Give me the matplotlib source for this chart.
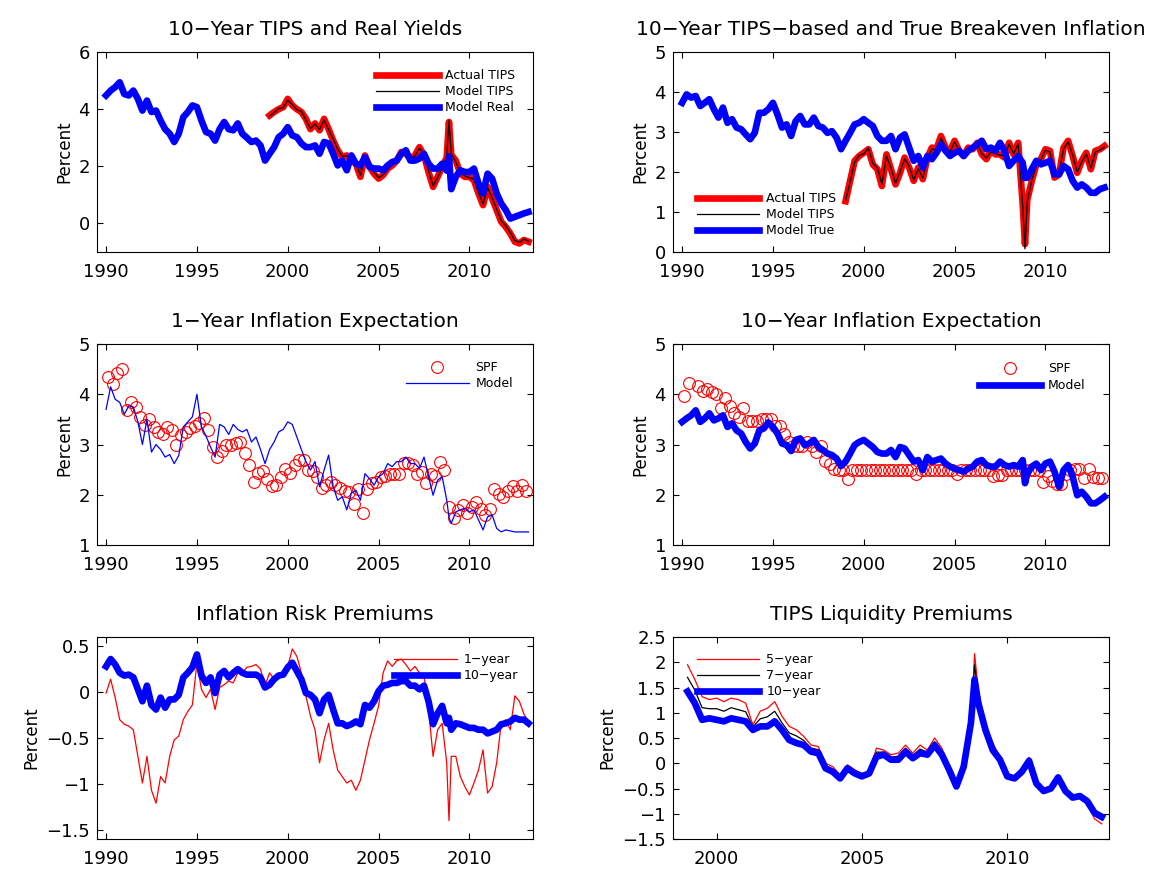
import numpy as np
import matplotlib
matplotlib.use('Agg')
import matplotlib.pyplot as plt
from matplotlib.ticker import FuncFormatter

plt.rcParams['font.family'] = ['DejaVu Sans']

nan = np.nan

# quarterly dates, with one extra point in late 2008 to catch the crisis spike
dates = np.concatenate([np.arange(1990, 2008.76, 0.25), [2008.875], np.arange(2009, 2013.26, 0.25)])
dates_tips = dates[dates >= 1999]
# survey dates (mid-quarter)
spf_dates_start = 1990.125

# --- panel 1: 10-year TIPS and real yields ---
real_model = [4.48, 4.65, 4.77, 4.94,  4.53, 4.48, 4.65, 4.36,  3.95, 4.30, 3.90, 3.95,
              3.60, 3.30, 3.14, 2.85,  3.14, 3.72, 3.90, 4.13,  4.07, 3.60, 3.20, 3.14,
              2.90, 3.30, 3.55, 3.30,  3.26, 3.50, 3.14, 3.00,  2.85, 2.90, 2.73, 2.20,
              2.44, 2.67, 3.02, 3.14,  3.37, 3.08, 3.02, 2.80,  2.67, 2.67, 2.73, 2.44,
              2.85, 2.80, 2.44, 2.03,  2.20, 1.86, 2.38, 2.09,  2.03, 2.32, 1.98, 1.92,
              1.92, 1.86, 2.03, 2.15,  2.20, 2.44, 2.56, 2.20,  2.20, 2.27, 2.44, 2.09,
              1.92, 1.92, 2.09, 1.85, 2.35,  1.20, 1.63, 1.86, 1.80,  1.80, 1.92, 1.40, 1.05,
              1.74, 1.57, 1.05, 0.70,  0.47, 0.17, 0.23, 0.29,  0.35, 0.40]
tips_actual = [3.78, 3.90, 4.00, 4.07,  4.36, 4.13, 4.00, 3.90,  3.66, 3.30, 3.50, 3.26,
               3.66, 3.30, 2.90, 2.56,  2.32, 2.38, 2.20, 2.09,  1.63, 2.38, 1.98, 1.74,
               1.57, 1.69, 1.92, 2.03,  2.20, 2.50, 2.44, 2.27,  2.38, 2.67, 2.38, 1.80,
               1.28, 1.63, 1.98, 2.30, 3.55,  2.40, 2.20, 1.74, 1.63,  1.63, 1.51, 1.05, 0.64,
               1.28, 0.87, 0.47, 0.06,  -0.12, -0.35, -0.64, -0.70,  -0.58, -0.64]
tips_model = [3.76, 3.88, 4.02, 4.05,  4.32, 4.15, 3.98, 3.92,  3.62, 3.32, 3.48, 3.28,
              3.62, 3.28, 2.95, 2.60,  2.35, 2.36, 2.22, 2.12,  1.68, 2.35, 2.00, 1.78,
              1.60, 1.70, 1.90, 2.05,  2.22, 2.48, 2.42, 2.30,  2.36, 2.64, 2.40, 1.85,
              1.32, 1.60, 1.95, 2.35, 3.60,  2.45, 2.15, 1.78, 1.66,  1.60, 1.55, 1.08, 0.68,
              1.25, 0.90, 0.50, 0.10,  -0.08, -0.32, -0.60, -0.66,  -0.55, -0.62]

# --- panel 2: breakeven inflation ---
bei_true = [3.73, 3.94, 3.86, 3.90,  3.65, 3.73, 3.82, 3.57,  3.36, 3.61, 3.23, 3.32,
            3.11, 3.07, 2.94, 2.82,  2.98, 3.48, 3.48, 3.57,  3.73, 3.44, 3.11, 3.19,
            2.90, 3.27, 3.40, 3.19,  3.19, 3.36, 3.15, 3.11,  2.98, 3.02, 2.86, 2.57,
            2.78, 2.98, 3.19, 3.23,  3.32, 3.23, 3.15, 2.90,  2.78, 2.78, 2.90, 2.57,
            2.86, 2.94, 2.61, 2.28,  2.40, 2.11, 2.40, 2.32,  2.48, 2.69, 2.53, 2.40,
            2.48, 2.53, 2.40, 2.53,  2.61, 2.69, 2.78, 2.57,  2.61, 2.53, 2.73, 2.53,
            2.15, 2.28, 2.40, 2.23, 1.85,  1.86, 2.07, 2.28, 2.19,  2.23, 2.28, 1.94, 1.94,
            2.15, 2.07, 1.78, 1.61,  1.69, 1.61, 1.48, 1.48,  1.57, 1.61]
bei_actual = [1.27, 1.78, 2.28, 2.40,  2.48, 2.57, 2.19, 2.07,  1.65, 2.44, 2.07, 1.69,
              1.98, 2.36, 2.11, 1.78,  2.11, 1.82, 2.36, 2.61,  2.57, 2.90, 2.61, 2.53,
              2.78, 2.53, 2.40, 2.61,  2.57, 2.73, 2.44, 2.32,  2.53, 2.44, 2.44, 2.36,
              2.73, 2.44, 2.73, 1.20, 0.20,  1.30, 1.78, 2.19, 2.32,  2.57, 2.53, 1.86, 1.94,
              2.61, 2.78, 2.40, 1.98,  2.28, 2.48, 2.07, 2.53,  2.57, 2.65]
bei_model = [1.30, 1.75, 2.25, 2.42,  2.45, 2.60, 2.22, 2.10,  1.70, 2.40, 2.10, 1.72,
             2.00, 2.33, 2.14, 1.80,  2.08, 1.85, 2.33, 2.58,  2.55, 2.85, 2.63, 2.50,
             2.75, 2.55, 2.42, 2.58,  2.55, 2.70, 2.46, 2.35,  2.50, 2.46, 2.42, 2.40,
             2.70, 2.46, 2.70, 1.15, 0.08,  1.25, 1.80, 2.15, 2.30,  2.55, 2.50, 1.90, 1.96,
             2.58, 2.75, 2.42, 2.00,  2.25, 2.45, 2.10, 2.50,  2.55, 2.62]

# --- panel 3: 1-year inflation expectation ---
spf_1y = [4.34, 4.20, 4.43, 4.51,  3.68, 3.85, 3.75, 3.54,  3.38, 3.50, 3.34, 3.25,
          3.20, 3.35, 3.28, 3.00,  3.19, 3.25, 3.32, 3.37,  3.42, 3.52, 3.28, 2.95,
          2.75, 2.87, 2.99, 3.00,  3.03, 3.05, 2.84, 2.59,  2.26, 2.44, 2.47, 2.31,
          2.17, 2.19, 2.36, 2.52,  2.44, 2.59, 2.69, 2.70,  2.49, 2.47, 2.36, 2.13,
          2.19, 2.26, 2.19, 2.13,  2.07, 2.06, 1.81, 2.11,  1.63, 2.11, 2.24, 2.26,
          2.36, 2.38, 2.42, 2.41,  2.41, 2.64, 2.64, 2.59,  2.42, 2.46, 2.23, 2.42,
          2.38, 2.66, 2.50, 1.76,  1.54, 1.70, 1.80, 1.63,  1.76, 1.86, 1.71, 1.60,
          1.71, 2.11, 2.01, 1.96,  2.07, 2.17, 2.07, 2.19,  2.08]
model_1y = [3.70, 4.15, 3.90, 3.84,  3.60, 3.77, 3.75, 3.45,  3.00, 3.50, 2.85, 3.00,
            2.90, 2.75, 2.80, 2.62,  2.78, 3.35, 3.45, 3.55,  4.00, 3.35, 3.17, 2.95,
            2.75, 3.40, 3.35, 3.20,  3.40, 3.30, 3.25, 3.30,  3.05, 3.15, 2.90, 2.62,
            2.90, 3.05, 3.25, 3.30,  3.45, 3.40, 3.15, 2.90,  2.66, 2.49, 2.66, 2.16,
            2.49, 2.79, 2.16, 1.89,  1.96, 1.70, 2.03, 2.09,  1.89, 2.42, 2.32, 2.19,
            2.36, 2.42, 2.62, 2.56,  2.66, 2.66, 2.75, 2.62,  2.62, 2.52, 2.75, 2.36,
            1.99, 2.29, 2.36, 1.90, 1.55,  1.43, 1.66, 1.70, 1.73,  1.66, 1.70, 1.50, 1.30,
            1.56, 1.60, 1.33, 1.26,  1.30, 1.28, 1.26, 1.26,  1.26, 1.26]

# --- panel 4: 10-year inflation expectation ---
spf_10y = [3.97, 4.23, nan, 4.16,  4.07, 4.11, 4.05, 4.00,  3.72, 3.92, 3.77, 3.62,
           3.54, 3.72, 3.46, 3.46,  3.47, 3.50, 3.50, 3.50,  3.37, 3.37, 3.21, 3.04,
           2.98, 2.98, 2.98, 3.04,  2.98, 2.85, 2.98, 2.67,  2.61, 2.51, 2.50, 2.50,
           2.32, 2.50, 2.50, 2.50,  2.50, 2.50, 2.50, 2.50,  2.50, 2.50, 2.50, 2.50,
           2.50, 2.50, 2.50, 2.42,  2.50, 2.50, 2.50, 2.50,  2.50, 2.50, 2.50, 2.50,
           2.42, 2.50, 2.50, 2.50,  2.50, 2.50, 2.50, 2.50,  2.38, 2.40, 2.40, 2.50,
           2.50, 2.50, 2.50, 2.50,  2.50, 2.50, 2.50, 2.26,  2.38, 2.28, 2.22, 2.22,
           2.42, 2.49, 2.51, 2.51,  2.34, 2.51, 2.36, 2.33,  2.33]
model_10y = [3.45, 3.52, 3.58, 3.68,  3.45, 3.52, 3.62, 3.48,  3.52, 3.58, 3.35, 3.42,
             3.28, 3.22, 3.05, 2.92,  3.02, 3.28, 3.32, 3.44,  3.35, 3.22, 3.02, 2.99,
             2.87, 3.09, 3.12, 2.99,  3.02, 3.09, 2.95, 2.89,  2.82, 2.79, 2.72, 2.57,
             2.66, 2.82, 2.99, 3.05,  3.09, 3.02, 2.95, 2.85,  2.82, 2.82, 2.89, 2.75,
             2.95, 2.92, 2.79, 2.66,  2.69, 2.49, 2.75, 2.66,  2.69, 2.72, 2.62, 2.56,
             2.52, 2.49, 2.46, 2.52,  2.56, 2.66, 2.69, 2.59,  2.56, 2.56, 2.66, 2.59,
             2.56, 2.59, 2.56, 2.69, 2.23,  2.42, 2.56, 2.62, 2.49,  2.62, 2.66, 2.46, 2.16,
             2.49, 2.59, 2.36, 1.99,  2.06, 1.96, 1.83, 1.83,  1.89, 1.96]

# --- panel 5: inflation risk premiums ---
irp_1y = [-0.01, 0.14, -0.06, -0.30,  -0.35, -0.37, -0.41, -0.70,  -0.99, -0.70, -1.07, -1.21,
          -0.92, -0.99, -0.70, -0.52,  -0.48, -0.30, -0.21, -0.14,  0.32, 0.03, -0.06, 0.03,
          -0.19, 0.05, 0.08, 0.12,  0.10, 0.21, 0.21, 0.27,  0.28, 0.30, 0.25, 0.07,
          0.21, 0.14, 0.18, 0.21,  0.28, 0.47, 0.39, 0.21,  -0.04, -0.26, -0.41, -0.77,
          -0.52, -0.34, -0.63, -0.85,  -0.92, -0.99, -0.96, -1.07,  -0.96, -0.74, -0.52, -0.34,
          -0.15, 0.21, 0.34, 0.28,  0.34, 0.36, 0.30, 0.23,  0.28, 0.21, 0.18, -0.19,
          -0.70, -0.41, -0.34, -0.77, -1.40,  -0.70, -0.70, -0.92, -1.03,  -1.12, -0.99, -0.85, -0.63,
          -1.10, -1.03, -0.77, -0.34,  -0.30, -0.41, -0.04, -0.10,  -0.24, -0.32]
irp_10y = [0.28, 0.36, 0.30, 0.21,  0.18, 0.19, 0.16, 0.03,  -0.10, 0.07, -0.14, -0.19,
           -0.06, -0.17, -0.08, -0.08,  -0.03, 0.16, 0.21, 0.27,  0.41, 0.18, 0.10, 0.16,
           -0.01, 0.19, 0.23, 0.16,  0.21, 0.25, 0.21, 0.19,  0.19, 0.19, 0.16, 0.05,
           0.08, 0.14, 0.18, 0.19,  0.27, 0.32, 0.23, 0.14,  -0.01, -0.03, -0.08, -0.23,
           -0.08, -0.03, -0.19, -0.34,  -0.34, -0.37, -0.35, -0.32,  -0.35, -0.14, -0.17, -0.10,
           0.01, 0.07, 0.08, 0.10,  0.10, 0.12, 0.12, 0.07,  0.07, 0.03, 0.07, -0.10,
           -0.35, -0.23, -0.15, -0.34, -0.28,  -0.41, -0.34, -0.35, -0.37,  -0.39, -0.39, -0.41, -0.41,
           -0.45, -0.43, -0.41, -0.35,  -0.34, -0.32, -0.28, -0.30,  -0.30, -0.34]

# --- panel 6: TIPS liquidity premiums ---
lp_5y = [1.95, 1.66, 1.32, 1.26,  1.29, 1.22, 1.29, 1.26,  1.19, 0.76, 1.03, 1.09,
         1.22, 0.93, 0.73, 0.66,  0.53, 0.36, 0.33, 0.00,  -0.07, -0.23, -0.03, -0.13,
         -0.20, -0.17, 0.30, 0.26,  0.17, 0.20, 0.36, 0.20,  0.36, 0.26, 0.50, 0.30,
         -0.07, -0.46, 0.03, 0.66, 2.17,  1.46, 0.73, 0.40, 0.13,  -0.20, -0.25, -0.10, 0.12,
         -0.38, -0.55, -0.48, -0.25,  -0.55, -0.70, -0.62, -0.80,  -1.10, -1.20]
lp_7y = [1.70, 1.45, 1.10, 1.08,  1.08, 1.03, 1.10, 1.06,  1.02, 0.72, 0.88, 0.92,
         1.03, 0.80, 0.60, 0.54,  0.45, 0.30, 0.27, -0.05,  -0.12, -0.27, -0.06, -0.16,
         -0.23, -0.18, 0.22, 0.22,  0.12, 0.14, 0.30, 0.15,  0.28, 0.22, 0.43, 0.24,
         -0.10, -0.46, -0.02, 0.72, 1.95,  1.35, 0.70, 0.33, 0.10,  -0.23, -0.27, -0.13, 0.08,
         -0.39, -0.55, -0.49, -0.27,  -0.55, -0.69, -0.64, -0.78,  -1.04, -1.12]
lp_10y = [1.42, 1.19, 0.86, 0.89,  0.86, 0.83, 0.89, 0.86,  0.83, 0.66, 0.73, 0.73,
          0.83, 0.66, 0.46, 0.40,  0.36, 0.23, 0.20, -0.10,  -0.17, -0.30, -0.10, -0.20,
          -0.26, -0.20, 0.13, 0.17,  0.07, 0.07, 0.23, 0.10,  0.20, 0.17, 0.36, 0.17,
          -0.13, -0.46, -0.07, 0.80, 1.66,  1.20, 0.66, 0.26, 0.07,  -0.26, -0.30, -0.17, 0.05,
          -0.40, -0.55, -0.50, -0.28,  -0.55, -0.68, -0.65, -0.75,  -0.98, -1.06]

spf_dates_1y = spf_dates_start + 0.25 * np.arange(len(spf_1y))
spf_dates_10y = spf_dates_start + 0.25 * np.arange(len(spf_10y))

RED = (1, 0, 0)
BLUE = (0, 0, 1)
THICK = 4.8
THIN = 0.9
TITLE_FS = 14.5
TICK_FS = 13
LABEL_FS = 12
LEG_FS = 9

fig = plt.figure(figsize=(11.56, 8.71), dpi=100)

left_x, right_x = 97 / 1156, 673 / 1156
width = 436 / 1156
rows = [(1 - 252 / 871, 200 / 871), (1 - 545 / 871, 201 / 871), (1 - 839 / 871, 202 / 871)]


def make_ax(col_x, row):
    b, h = rows[row]
    ax = fig.add_axes([col_x, b, width, h])
    ax.tick_params(direction='in', top=True, right=True, length=4, width=0.8,
                   labelsize=TICK_FS)
    ax.tick_params(axis='x', pad=8)
    ax.tick_params(axis='y', pad=5)
    for s in ax.spines.values():
        s.set_linewidth(0.8)
    ax.set_ylabel('Percent', fontsize=LABEL_FS)
    ax.yaxis.set_major_formatter(FuncFormatter(lambda v, p: ('%g' % v).replace('-', '\u2212')))
    return ax


def legend(ax, x, y, spacing=0.25, handlelength=5.0):
    ax.legend(loc='upper left', bbox_to_anchor=(x, y), frameon=False, fontsize=LEG_FS,
              borderpad=0, borderaxespad=0, handlelength=handlelength,
              handletextpad=0.55, labelspacing=spacing, numpoints=1)


year_ticks = [1990, 1995, 2000, 2005, 2010]

# Panel 1
ax = make_ax(left_x, 0)
ax.plot(dates_tips, tips_actual, color=RED, lw=THICK, label='Actual TIPS')
ax.plot(dates_tips, tips_model, color='k', lw=THIN, label='Model TIPS')
ax.plot(dates, real_model, color=BLUE, lw=THICK, label='Model Real')
ax.set_xlim(1989.5, 2013.5)
ax.set_ylim(-1, 6)
ax.set_xticks(year_ticks)
ax.set_yticks([0, 2, 4, 6])
ax.set_title('10\u2212Year TIPS and Real Yields', fontsize=TITLE_FS, pad=12)
legend(ax, 0.64, 0.915)

# Panel 2
ax = make_ax(right_x, 0)
ax.plot(dates_tips, bei_actual, color=RED, lw=THICK, label='Actual TIPS')
ax.plot(dates_tips, bei_model, color='k', lw=THIN, label='Model TIPS')
ax.plot(dates, bei_true, color=BLUE, lw=THICK, label='Model True')
ax.set_xlim(1989.5, 2013.5)
ax.set_ylim(0, 5)
ax.set_xticks(year_ticks)
ax.set_yticks([0, 1, 2, 3, 4, 5])
ax.set_title('10\u2212Year TIPS\u2212based and True Breakeven Inflation', fontsize=TITLE_FS, pad=12)
legend(ax, 0.055, 0.3)

# Panel 3
ax = make_ax(left_x, 1)
ax.plot(spf_dates_1y, spf_1y, 'o', mfc='none', mec=RED, ms=8.5, mew=0.8, label='SPF')
ax.plot(dates, model_1y, color=BLUE, lw=THIN, label='Model')
ax.set_xlim(1989.5, 2013.5)
ax.set_ylim(1, 5)
ax.set_xticks(year_ticks)
ax.set_yticks([1, 2, 3, 4, 5])
ax.set_title('1\u2212Year Inflation Expectation', fontsize=TITLE_FS, pad=12)
legend(ax, 0.709, 0.915)

# Panel 4
ax = make_ax(right_x, 1)
ax.plot(spf_dates_10y, spf_10y, 'o', mfc='none', mec=RED, ms=8.5, mew=0.8, label='SPF')
ax.plot(dates, model_10y, color=BLUE, lw=THICK, label='Model')
ax.set_xlim(1989.5, 2013.5)
ax.set_ylim(1, 5)
ax.set_xticks(year_ticks)
ax.set_yticks([1, 2, 3, 4, 5])
ax.set_title('10\u2212Year Inflation Expectation', fontsize=TITLE_FS, pad=12)
legend(ax, 0.701, 0.91, spacing=0.35)

# Panel 5
ax = make_ax(left_x, 2)
ax.plot(dates, irp_1y, color=RED, lw=THIN, label='1\u2212year')
ax.plot(dates, irp_10y, color=BLUE, lw=THICK, label='10\u2212year')
ax.set_xlim(1989.5, 2013.5)
ax.set_ylim(-1.6, 0.6)
ax.set_xticks(year_ticks)
ax.set_yticks([-1.5, -1, -0.5, 0, 0.5])
ax.set_title('Inflation Risk Premiums', fontsize=TITLE_FS, pad=12)
legend(ax, 0.682, 0.92)

# Panel 6
ax = make_ax(right_x, 2)
ax.plot(dates_tips, lp_5y, color=RED, lw=THIN, label='5\u2212year')
ax.plot(dates_tips, lp_7y, color='k', lw=THIN, label='7\u2212year')
ax.plot(dates_tips, lp_10y, color=BLUE, lw=THICK, label='10\u2212year')
ax.set_xlim(1998.5, 2013.5)
ax.set_ylim(-1.5, 2.5)
ax.set_xticks([2000, 2005, 2010])
ax.set_yticks(np.arange(-1.5, 2.51, 0.5))
ax.set_title('TIPS Liquidity Premiums', fontsize=TITLE_FS, pad=12)
legend(ax, 0.055, 0.92)

fig.savefig('out.png', dpi=100)
